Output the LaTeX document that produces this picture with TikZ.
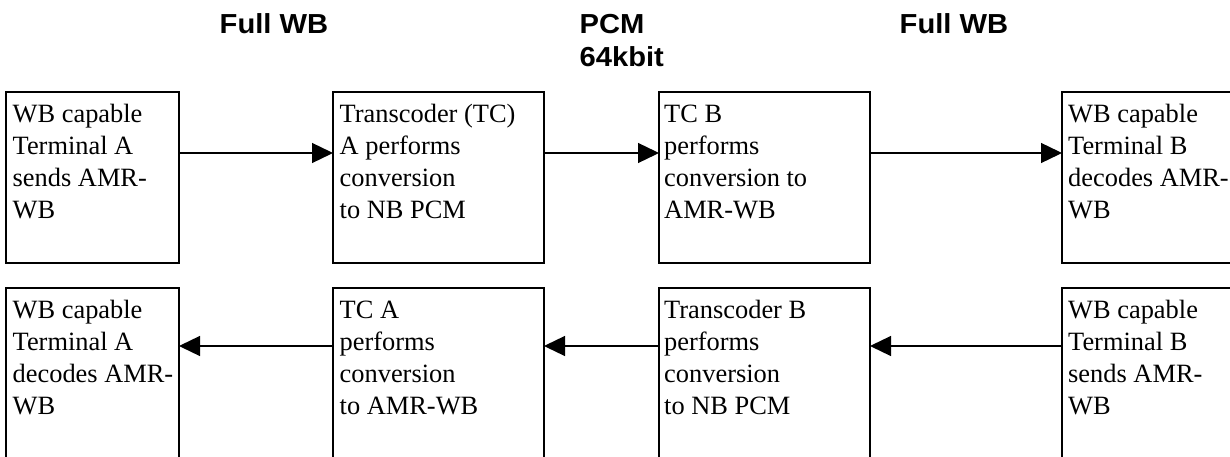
\documentclass[tikz,border=0pt]{standalone}
\usepackage{fontspec}
\setmainfont{Liberation Serif}
\newfontfamily\hdrfont[FakeStretch=1.06]{Liberation Sans}
\usetikzlibrary{arrows.meta}
\newcommand\firstline{\rule{0pt}{20pt}}
\newcommand\hdrline{\rule{0pt}{20pt}}
\begin{document}
\begin{tikzpicture}[x=1pt,y=-1pt,
  box/.style={draw, line width=1.3pt, minimum width=#1, anchor=north west, inner sep=0pt, outer sep=0pt},
  toprow/.style={minimum height=171pt},
  botrow/.style={minimum height=200pt},
  txt/.style={anchor=north west, inner sep=0pt, align=left, font=\fontsize{26.4}{32}\selectfont},
  hdr/.style={anchor=north west, inner sep=0pt, align=left, font=\hdrfont\bfseries\fontsize{27.5}{33.6}\selectfont},
  arr/.style={line width=1.3pt, -{Triangle[length=21pt,width=20pt]}}]
\useasboundingbox (0,0) rectangle (1230,457);
\clip (0,0) rectangle (1230,457);
% headers
\node[hdr] (h1) at (219.5,13) {\hdrline Full WB};
\node[hdr] (h2) at (579.5,13) {\hdrline PCM\\64kbit};
\node[hdr] (h3) at (899.5,13) {\hdrline Full WB};
% top row boxes
\node[box=173pt, toprow] (a1) at (6,92) {};
\node[box=211pt, toprow] (a2) at (333,92) {};
\node[box=211pt, toprow] (a3) at (659,92) {};
\node[box=190pt, toprow] (a4) at (1062,92) {};
% bottom row boxes
\node[box=173pt, botrow] (b1) at (6,288) {};
\node[box=211pt, botrow] (b2) at (333,288) {};
\node[box=211pt, botrow] (b3) at (659,288) {};
\node[box=190pt, botrow] (b4) at (1062,288) {};
% texts
\node[txt] (ta1) at ([xshift=6.5pt,yshift=-10pt]a1.north west) {\firstline WB capable\\Terminal A\\sends AMR-\\WB};
\node[txt] (ta2) at ([xshift=6.5pt,yshift=-10pt]a2.north west) {\firstline Transcoder (TC)\\A performs\\conversion\\to NB PCM};
\node[txt] (ta3) at ([xshift=5pt,yshift=-10pt]a3.north west) {\firstline TC B\\performs\\conversion to\\AMR-WB};
\node[txt] (ta4) at ([xshift=6pt,yshift=-10pt]a4.north west) {\firstline WB capable\\Terminal B\\decodes AMR-\\WB};
\node[txt] (tb1) at ([xshift=6.5pt,yshift=-10pt]b1.north west) {\firstline WB capable\\Terminal A\\decodes AMR-\\WB};
\node[txt] (tb2) at ([xshift=6.5pt,yshift=-10pt]b2.north west) {\firstline TC A\\performs\\conversion\\to AMR-WB};
\node[txt] (tb3) at ([xshift=5pt,yshift=-10pt]b3.north west) {\firstline Transcoder B\\performs\\conversion\\to NB PCM};
\node[txt] (tb4) at ([xshift=6pt,yshift=-10pt]b4.north west) {\firstline WB capable\\Terminal B\\sends AMR-\\WB};
% arrows top row
\draw[arr] ([yshift=-61pt]a1.north east) -- ([yshift=-61pt]a2.north west);
\draw[arr] ([yshift=-61pt]a2.north east) -- ([yshift=-61pt]a3.north west);
\draw[arr] ([yshift=-61pt]a3.north east) -- ([yshift=-61pt]a4.north west);
% arrows bottom row
\draw[arr] ([yshift=-58pt]b2.north west) -- ([yshift=-58pt]b1.north east);
\draw[arr] ([yshift=-58pt]b3.north west) -- ([yshift=-58pt]b2.north east);
\draw[arr] ([yshift=-58pt]b4.north west) -- ([yshift=-58pt]b3.north east);
\end{tikzpicture}
\end{document}
